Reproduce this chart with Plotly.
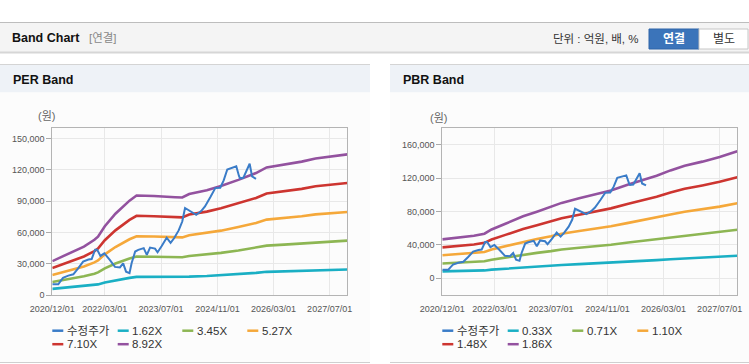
import plotly.graph_objects as go

W, H = 749, 364

# ---------------- data ----------------
x_ticks = ["2020-12-01", "2022-03-01", "2023-07-01", "2024-11-01", "2026-03-01", "2027-07-01"]
x_tick_text = ["2020/12/01", "2022/03/01", "2023/07/01", "2024/11/01", "2026/03/01", "2027/07/01"]

price_dates = ["2020-12-01", "2021-01-22", "2021-02-15", "2021-03-04", "2021-04-19", "2021-06-01",
               "2021-07-13", "2021-08-25", "2021-10-10", "2021-11-07", "2021-12-07", "2021-12-25",
               "2022-01-22", "2022-02-25", "2022-04-13", "2022-05-28", "2022-07-10", "2022-08-07",
               "2022-09-01", "2022-10-01", "2022-10-19", "2022-11-19", "2022-12-16", "2023-02-01",
               "2023-02-28", "2023-03-28", "2023-05-10", "2023-06-01", "2023-07-07", "2023-08-19",
               "2023-09-22", "2023-10-22", "2023-12-01", "2024-01-01", "2024-01-25", "2024-03-10",
               "2024-05-01", "2024-06-13", "2024-07-16", "2024-09-01", "2024-10-13", "2024-11-25",
               "2024-12-25", "2025-01-25", "2025-03-20", "2025-04-13", "2025-05-07", "2025-05-16",
               "2025-06-13", "2025-07-13", "2025-08-07", "2025-08-28", "2025-10-01"]
price_values = [10300, 10300, 14000, 16500, 18600, 19900,
                25600, 32000, 34000, 34500, 43500, 43500,
                37500, 40000, 33600, 27000, 26500, 30400,
                22400, 21000, 30400, 41700, 43300, 45000,
                38500, 45500, 44500, 41000, 47000, 55000,
                50000, 54500, 62000, 70500, 83500, 80500,
                77000, 80500, 85000, 94000, 102600, 103000,
                110000, 120500, 123000, 123500, 114000, 112000,
                112500, 120200, 126000, 113800, 111500]

eps_dates = ["2020-12-01", "2021-05-01", "2021-09-01", "2021-12-01", "2022-01-01", "2022-03-01",
             "2022-06-01", "2022-10-01", "2022-12-01", "2023-05-01", "2023-07-01", "2023-11-01",
             "2024-01-01", "2024-03-01", "2024-08-01", "2024-12-01", "2025-05-01", "2025-10-01",
             "2026-01-01", "2026-06-01", "2026-11-01", "2027-03-01", "2027-08-01", "2027-12-01"]
eps_values = [3640, 4480, 5210, 5940, 6280, 7400,
              8740, 10150, 10710, 10650, 10590, 10520,
              10490, 10870, 11270, 11720, 12390, 13120,
              13730, 14010, 14350, 14690, 14910, 15130]
per_multiples = [1.62, 3.45, 5.27, 7.10, 8.92]
per_labels = ["1.62X", "3.45X", "5.27X", "7.10X", "8.92X"]

bps_dates = ["2020-12-01", "2021-05-01", "2021-09-01", "2021-12-01", "2022-02-01", "2022-06-01",
             "2022-11-01", "2023-03-01", "2023-07-01", "2023-10-01", "2024-03-01", "2024-08-01",
             "2024-12-01", "2025-05-01", "2025-10-01", "2026-01-01", "2026-05-01", "2026-09-01",
             "2027-02-01", "2027-07-01", "2027-12-01"]
bps_values = [25110, 26340, 27420, 28760, 31500, 35220,
              40050, 43010, 45970, 48660, 51610, 54300,
              56720, 60480, 63980, 66130, 69620, 72580,
              75270, 78230, 81990]
pbr_multiples = [0.33, 0.71, 1.10, 1.48, 1.86]
pbr_labels = ["0.33X", "0.71X", "1.10X", "1.48X", "1.86X"]

per_yticks = [0, 30000, 60000, 90000, 120000, 150000]
pbr_yticks = [0, 40000, 80000, 120000, 160000]

# ---------------- styling ----------------
price_color = "#3a7cc8"
band_colors = ["#1aafc4", "#8db653", "#f5a83a", "#cd3530", "#93529f"]
FONT = "Liberation Sans, Arial, Noto Sans CJK KR, sans-serif"


def px(x):
    return x / W


def py(y):
    return 1 - y / H


fig = go.Figure()

for xa, ya, bd, bv, mults, labels in [
    ("x", "y", eps_dates, eps_values, per_multiples, per_labels),
    ("x2", "y2", bps_dates, bps_values, pbr_multiples, pbr_labels),
]:
    for mult, lab, col in zip(mults, labels, band_colors):
        fig.add_trace(go.Scatter(x=bd, y=[v * mult for v in bv], mode="lines", name=lab,
                                 line=dict(color=col, width=2.6),
                                 xaxis=xa, yaxis=ya, showlegend=False, hoverinfo="skip"))
    fig.add_trace(go.Scatter(x=price_dates, y=price_values, mode="lines", name="수정주가",
                             line=dict(color=price_color, width=2),
                             xaxis=xa, yaxis=ya, showlegend=False, hoverinfo="skip"))

ydom = [py(295), py(128.3)]
axis_common = dict(showline=True, mirror=True, linecolor="#b4b4b4", linewidth=1,
                   gridcolor="#e8e8e8", gridwidth=1, zeroline=False, automargin=False,
                   tickfont=dict(family=FONT, size=9, color="#555555"))
xcommon = dict(type="date", range=["2020-12-01", "2027-12-01"], tickvals=x_ticks,
               ticktext=x_tick_text, ticks="", ticklabelstandoff=5, **axis_common)
fig.update_layout(
    xaxis=dict(domain=[px(52.3), px(347.3)], anchor="y", **xcommon),
    xaxis2=dict(domain=[px(442.3), px(737.3)], anchor="y2", **xcommon),
    yaxis=dict(domain=ydom, anchor="x", range=[0, 160000], tickvals=per_yticks,
               tickformat=",", ticks="outside", ticklen=5, tickcolor="#aaaaaa", **axis_common),
    yaxis2=dict(domain=ydom, anchor="x2", range=[-20000, 180000], tickvals=pbr_yticks,
                tickformat=",", ticks="outside", ticklen=5, tickcolor="#aaaaaa", **axis_common),
)

shapes = []
ann = []


def rect(x0, y0, x1, y1, fill, line=None, layer="below", lw=1):
    shapes.append(dict(type="rect", xref="paper", yref="paper", x0=px(x0), x1=px(x1),
                       y0=py(y1), y1=py(y0), fillcolor=fill,
                       line=dict(color=line or fill, width=lw if line else 0), layer=layer))


def hline(x0, x1, y, color, width=1, layer="below"):
    shapes.append(dict(type="line", xref="paper", yref="paper", x0=px(x0), x1=px(x1),
                       y0=py(y), y1=py(y), line=dict(color=color, width=width), layer=layer))


def text(x, y, s, size=12, color="#333", bold=False, xanchor="left"):
    if bold:
        s = "<b>" + s + "</b>"
    ann.append(dict(xref="paper", yref="paper", x=px(x), y=py(y), text=s, showarrow=False,
                    xanchor=xanchor, yanchor="middle",
                    font=dict(family=FONT, size=size, color=color)))


# top bar
rect(0, 22, 749, 52, "#f4f4f4")
hline(0, 749, 22.5, "#bdbdbd")
hline(0, 749, 52.5, "#d6d6d6", 2)
text(10, 38.5, "Band Chart", 12.5, "#111111", bold=True)
text(87, 38.5, "[연결]", 11.5, "#888888")
text(551, 38.5, "단위 : 억원, 배, %", 11.5, "#333333")
rect(649, 29, 699, 49, "#3b74ba", "#2e64a8", layer="above")
rect(699, 29, 748, 49, "#ffffff", "#c6c6c6", layer="above")
text(674, 39, "연결", 12, "#ffffff", bold=True, xanchor="center")
text(723.5, 39, "별도", 12, "#333333", xanchor="center")

# panels
for x0, x1, title, tx in [(0, 370, "PER Band", 11), (390, 749, "PBR Band", 401)]:
    rect(x0, 64, x1, 92.5, "#eef2f7")
    hline(x0, x1, 64.5, "#d4d4d4")
    rect(x0, 92.5, x1, 362, "#fcfcfc")
    hline(x0, x1, 362.5, "#cfcfcf")
    text(tx, 80, title, 12.5, "#111111", bold=True)

text(46.5, 116.5, "(원)", 11, "#666666", xanchor="center")
text(438.5, 118, "(원)", 11, "#666666", xanchor="center")

# legends
for cols, names in [([52.3, 117.7, 182.3, 247.3], ["수정주가"] + per_labels),
                    ([442.3, 507.7, 572.3, 637.3], ["수정주가"] + pbr_labels)]:
    colors = [price_color] + band_colors
    for i, (nm, col) in enumerate(zip(names, colors)):
        r, c = divmod(i, 4)
        yy = 330.7 + r * 13.5
        xx = cols[c]
        hline(xx, xx + 11, yy, col, 2.5, layer="above")
        text(xx + 12.5, yy, nm, 11.5, "#333333")

fig.update_layout(shapes=shapes, annotations=ann, width=W, height=H,
                  margin=dict(l=0, r=0, t=0, b=0, pad=0, autoexpand=False),
                  paper_bgcolor="#ffffff", plot_bgcolor="#ffffff", showlegend=False)

fig.write_html("out.html", config={"displayModeBar": False},
               post_script="document.body.style.margin='0';document.body.style.padding='0';"
                           "document.body.style.overflow='hidden';")
